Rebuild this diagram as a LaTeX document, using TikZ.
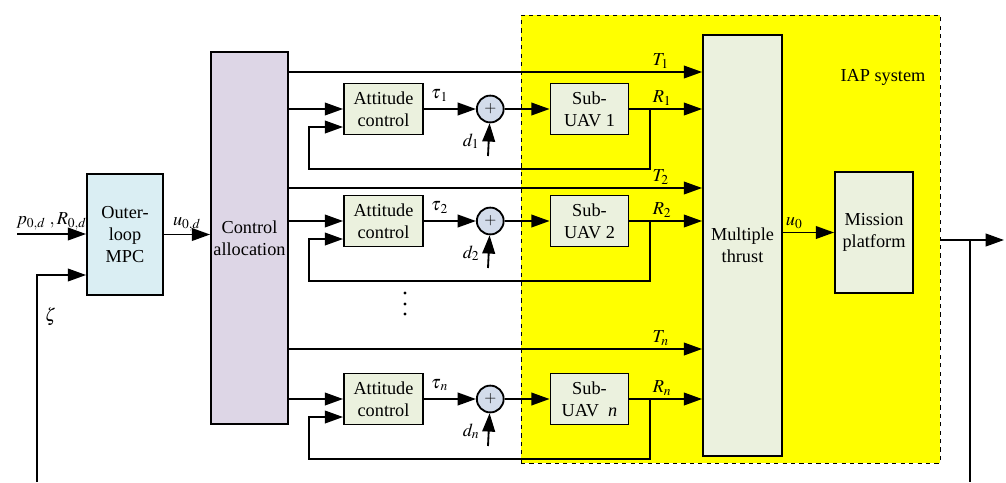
\documentclass[tikz,border=0pt]{standalone}
\usepackage{mathptmx}
\usepackage{fontspec}
\setmainfont{Liberation Serif}
\newfontfamily\diagfont{Liberation Serif}
\usepackage{tikz}
\usetikzlibrary{positioning, arrows.meta, calc, fit}
\definecolor{iapyellow}{HTML}{FFFF00}
\definecolor{blkgreen}{HTML}{EBF1DE}
\definecolor{mpcblue}{HTML}{DAEEF3}
\definecolor{calilac}{HTML}{DDD6E6}
\definecolor{sumblue}{HTML}{D3DCEB}

\begin{document}
\begin{tikzpicture}[
  x=0.025cm, y=-0.025cm,
  font=\diagfont\fontsize{13}{15.5}\selectfont,
  blk/.style={
    rectangle, draw, line width=1.3pt, fill=blkgreen,
    minimum width=1.975cm, minimum height=1.275cm,
    inner sep=1pt, align=center
  },
  tall/.style={blk, minimum height=3.025cm},
  sumc/.style={circle, draw, line width=1.3pt, fill=sumblue,
    minimum size=0.67cm, inner sep=0pt, font=\fontsize{11}{11}\selectfont},
  arr/.style={-{Triangle[length=13pt, width=9pt]}, line width=1.3pt},
  wire/.style={line width=1.3pt},
  lbl/.style={inner sep=2pt},
]
\useasboundingbox (0,0) rectangle (1006,482);

% IAP system region
\node[draw, dashed, fill=iapyellow, inner sep=0pt, fit={(521,15) (940,463)}] (iap) {};
\node[lbl] (iaplbl) at (883,77) {IAP system};

% Main blocks
\node[tall, fill=mpcblue, minimum width=1.9cm] (mpc) at (125,234.5) {Outer-\\loop\\MPC};
\node[blk, fill=calilac, minimum width=1.925cm, minimum height=9.3cm] (ca) at (249.5,238) {Control\\allocation};
\node[blk, minimum height=10.525cm] (mt) at (742.5,245.5) {Multiple\\thrust};
\node[tall, minimum width=1.95cm] (mp) at (874,232.5) {Mission\\platform};

% Sub-UAV channels
\foreach \i/\yr/\yt/\s/\u in {1/109/72/1/1, 2/221/188/2/2, n/399/349/n/{~\textit{n}}} {
  \node[blk] (att\i) at (383.5,\yr) {Attitude\\control};
  \node[sumc, right=1.3cm of att\i] (sum\i) {$+$};
  \node[blk, minimum width=1.95cm] (uav\i) at (589.5,\yr) {Sub-\\UAV \u};
  \coordinate (ty\i) at (0,\yt);
  \coordinate (dd\i) at (488,\yr+47);
  \coordinate (jn\i) at (650,\yr);
  \coordinate (fb\i) at (309,\yr+60);

  \draw[arr] (ca.east |- ty\i) -- node[lbl, above, pos=0.9] {$T_{\s}$} (mt.west |- ty\i);
  \draw[arr] (ca.east |- att\i) -- (att\i);
  \draw[arr] (att\i) -- node[lbl, above=3pt, pos=0.3] {$\tau_{\,\s}$} (sum\i);
  \draw[arr] (dd\i) -- node[lbl, left=4pt, pos=0.45] {$d_{\s}$} (sum\i);
  \draw[arr] (sum\i) -- (uav\i);
  \draw[arr] (uav\i) -- node[lbl, above, pos=0.45] {$R_{\s}$} (mt.west |- uav\i);
  \draw[arr] (jn\i) |- (fb\i) |- ([yshift=-0.45cm]att\i.west);
}
% dots between channels
\foreach \k/\yd in {1/293, 2/304, 3/314}
  \fill (405,\yd) circle (1.2pt) coordinate (dot\k);

% Outer loop signals
\coordinate (pin) at (17,234);
\coordinate (zb) at (37,482);
\draw[arr] (pin) -- node[lbl, above] {$p_{0,d}\;,R_{0,d}$} (mpc.west |- pin);
\draw[arr] (zb) -- node[lbl, right=3pt, pos=0.8] {$\zeta$} (zb |- 0,275) -- (mpc.west |- 0,275);
\draw[arr] (mpc) -- node[lbl, above] {$u_{0,d}$} (ca.west |- mpc);
\draw[arr] (mt.east |- mp) -- node[lbl, above, pos=0.22] {$u_0$} (mp);

% Output and feedback
\coordinate (yout) at (1004,240);
\coordinate (fbt) at (970,482);
\draw[arr] (iap.east |- yout) -- (yout);
\draw[wire] (fbt |- yout) -- (fbt);
\end{tikzpicture}
\end{document}
